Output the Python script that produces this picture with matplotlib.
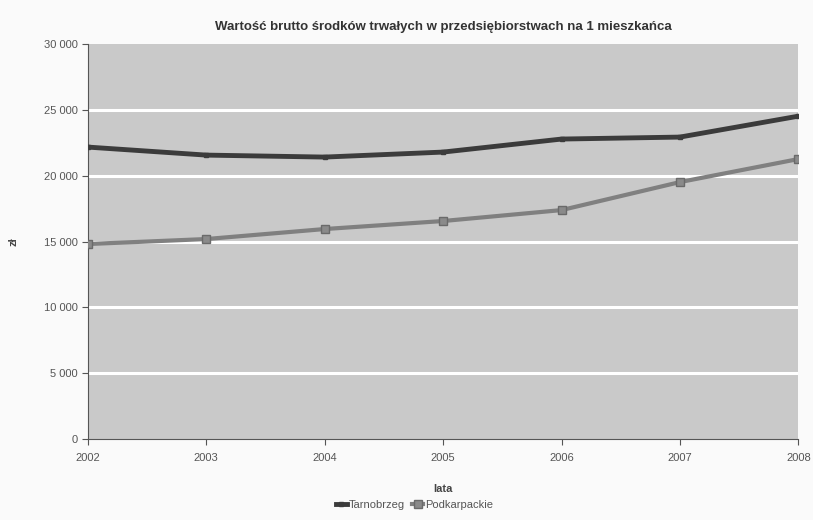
import matplotlib
matplotlib.use('Agg')
import matplotlib.pyplot as plt
from matplotlib.ticker import FuncFormatter

plt.rcParams['font.family'] = ['Liberation Sans', 'DejaVu Sans']

years = [2002, 2003, 2004, 2005, 2006, 2007, 2008]
tarnobrzeg = [22180, 21570, 21420, 21800, 22790, 22940, 24530]
podkarpackie = [14810, 15190, 15950, 16560, 17390, 19520, 21270]
yticks = [0, 5000, 10000, 15000, 20000, 25000, 30000]

fig = plt.figure(figsize=(8.13, 5.20), dpi=100)
ax = fig.add_axes([0.108, 0.156, 0.874, 0.759])
ax.set_facecolor('#c9c9c9')

for y in yticks[1:-1]:
    ax.axhline(y, color='white', lw=2.2, zorder=1)

ax.plot(years, tarnobrzeg, color='#3b3b3b', lw=3.5, marker='s', ms=3,
        label='Tarnobrzeg', zorder=3)
ax.plot(years, podkarpackie, color='#808080', lw=3, marker='s', ms=6,
        mfc='#8a8a8a', mec='#6a6a6a', label='Podkarpackie', zorder=3)

ax.set_xlim(2002, 2008)
ax.set_ylim(0, 30000)
ax.set_xticks(years)
ax.set_yticks(yticks)
ax.yaxis.set_major_formatter(FuncFormatter(lambda v, p: f'{int(v):,}'.replace(',', ' ')))
ax.tick_params(labelsize=8, colors='#555555', length=4, direction='out')
ax.tick_params(axis='x', pad=6)
for s in ['top', 'right']:
    ax.spines[s].set_visible(False)
for s in ['left', 'bottom']:
    ax.spines[s].set_color('#555555')

ax.set_title('Wartość brutto środków trwałych w przedsiębiorstwach na 1 mieszkańca',
             fontsize=9.5, fontweight='bold', color='#333333', pad=10)
ax.set_xlabel('lata', fontsize=8, fontweight='bold', color='#444444')
ax.xaxis.set_label_coords(0.5, -0.115)
ax.set_ylabel('zł', fontsize=8, fontweight='bold', color='#444444')
ax.yaxis.set_label_coords(-0.098, 0.5)

fig.legend(loc='lower center', bbox_to_anchor=(0.51, 0.0), ncol=2, frameon=False,
           fontsize=8, labelcolor='#555555', handlelength=1.0, handletextpad=0.2,
           columnspacing=0.6)

fig.savefig('out.png', dpi=100, facecolor='#fafafa')
